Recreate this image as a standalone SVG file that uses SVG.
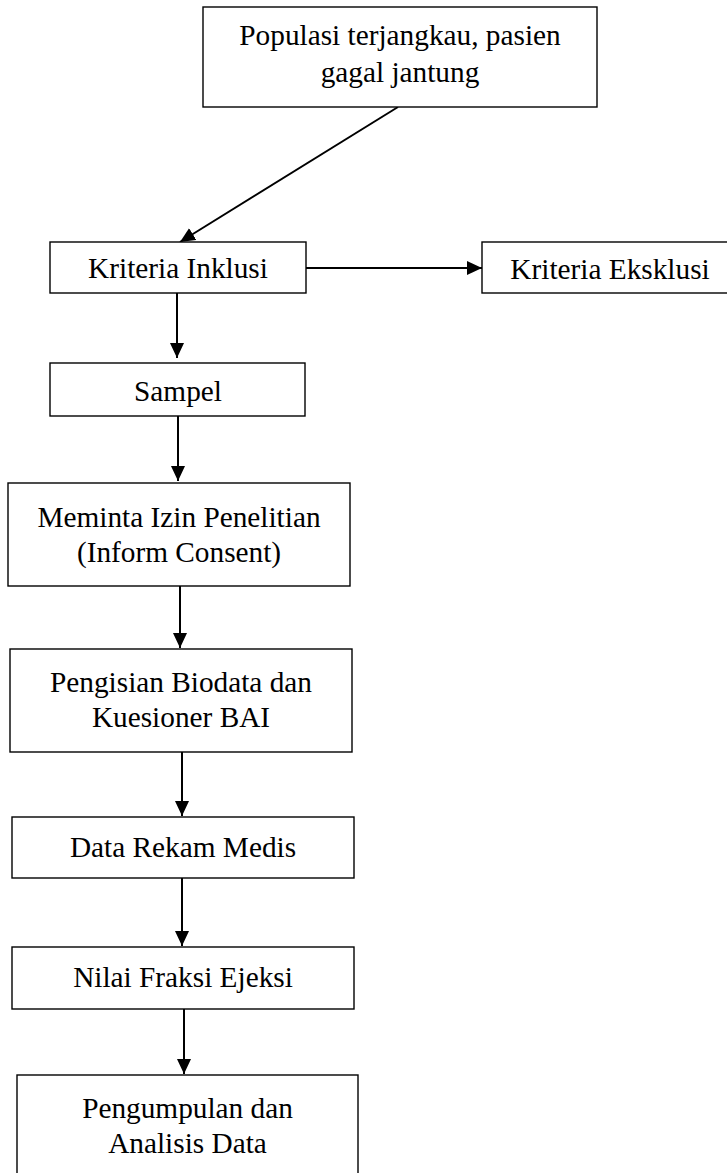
<svg xmlns="http://www.w3.org/2000/svg" width="727" height="1173" viewBox="0 0 727 1173">
  <style>
    .box { fill: #ffffff; stroke: #000000; stroke-width: 1.4; }
    .lbl { font-family: "Liberation Serif", "Times New Roman", serif; font-size: 29.3px; fill: #000000; text-anchor: middle; }
    .edge { stroke: #000000; stroke-width: 2; fill: none; marker-end: url(#arrow); }
  </style>
  <defs>
    <marker id="arrow" markerUnits="userSpaceOnUse" markerWidth="16" markerHeight="14" refX="15" refY="7" orient="auto">
      <path d="M0,0 L15,7 L0,14 Z" fill="#000000"/>
    </marker>
  </defs>
  <rect width="727" height="1173" fill="#ffffff"/>

  <g id="connectors">
    <line class="edge" x1="398" y1="107" x2="180" y2="242"/>
    <line class="edge" x1="306" y1="268" x2="482" y2="268"/>
    <line class="edge" x1="177" y1="293" x2="177" y2="358"/>
    <line class="edge" x1="178" y1="416" x2="178" y2="481"/>
    <line class="edge" x1="180" y1="586" x2="180" y2="648"/>
    <line class="edge" x1="182" y1="752" x2="182" y2="816"/>
    <line class="edge" x1="182" y1="878" x2="182" y2="946"/>
    <line class="edge" x1="184" y1="1009" x2="184" y2="1074"/>
  </g>

  <g id="node-populasi">
    <rect class="box" x="203" y="7" width="394" height="100"/>
    <text class="lbl" x="400" y="45">Populasi terjangkau, pasien</text>
    <text class="lbl" x="400" y="82">gagal jantung</text>
  </g>

  <g id="node-inklusi">
    <rect class="box" x="50" y="242" width="256" height="51"/>
    <text class="lbl" x="178" y="278">Kriteria Inklusi</text>
  </g>

  <g id="node-eksklusi">
    <rect class="box" x="482" y="242" width="250" height="51"/>
    <text class="lbl" x="610" y="279">Kriteria Eksklusi</text>
  </g>

  <g id="node-sampel">
    <rect class="box" x="50" y="363" width="255" height="53"/>
    <text class="lbl" x="178" y="401">Sampel</text>
  </g>

  <g id="node-izin">
    <rect class="box" x="8" y="483" width="342" height="103"/>
    <text class="lbl" x="179" y="527">Meminta Izin Penelitian</text>
    <text class="lbl" x="179" y="562">(Inform Consent)</text>
  </g>

  <g id="node-biodata">
    <rect class="box" x="10" y="649" width="342" height="103"/>
    <text class="lbl" x="181" y="692">Pengisian Biodata dan</text>
    <text class="lbl" x="181" y="727">Kuesioner BAI</text>
  </g>

  <g id="node-rekam">
    <rect class="box" x="12" y="817" width="342" height="61"/>
    <text class="lbl" x="183" y="857">Data Rekam Medis</text>
  </g>

  <g id="node-fraksi">
    <rect class="box" x="12" y="947" width="342" height="62"/>
    <text class="lbl" x="183" y="987">Nilai Fraksi Ejeksi</text>
  </g>

  <g id="node-analisis">
    <rect class="box" x="17" y="1075" width="341" height="110"/>
    <text class="lbl" x="187.5" y="1118">Pengumpulan dan</text>
    <text class="lbl" x="187.5" y="1153">Analisis Data</text>
  </g>
</svg>
